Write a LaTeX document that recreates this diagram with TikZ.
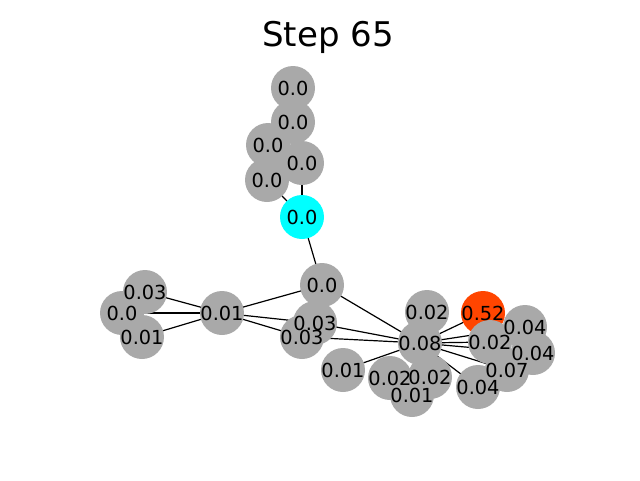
\documentclass[tikz,border=0pt]{standalone}
\usepackage{fontspec}
\setmainfont{DejaVu Sans}
\usetikzlibrary{backgrounds}
\definecolor{nodegray}{HTML}{A9A9A9}
\definecolor{nodecyan}{HTML}{00FFFF}
\definecolor{nodeorange}{HTML}{FF4500}
\begin{document}
\begin{tikzpicture}[x=0.75pt,y=-0.75pt,
  vert/.style={circle,inner sep=0pt,minimum size=33pt,fill=nodegray},
  lbl/.style={inner sep=0pt,font=\fontsize{14.5pt}{16pt}\selectfont},
  edge/.style={line width=0.9pt,black}]
\useasboundingbox (0,0) rectangle (640,480);
\node[font=\fontsize{25.5pt}{30pt}\selectfont] (title) at (328,37) {Step 65};

% vertices
\node[vert] (A) at (293,88) {};
\node[vert] (B) at (293,122) {};
\node[vert] (C) at (268,145) {};
\node[vert] (D) at (302,163) {};
\node[vert] (E) at (267,180) {};
\node[vert,fill=nodecyan] (F) at (302,217) {};
\node[vert] (G) at (322,285) {};
\node[vert] (H) at (222,313) {};
\node[vert] (I) at (145,292) {};
\node[vert] (J) at (122,313) {};
\node[vert] (K) at (142,337) {};
\node[vert] (L) at (315,323) {};
\node[vert] (M) at (302,337) {};
\node[vert] (N) at (420,343) {};
\node[vert] (O) at (427,312) {};
\node[vert,fill=nodeorange] (P) at (483,313) {};
\node[vert] (Q) at (525,327) {};
\node[vert] (S) at (533,353) {};
\node[vert] (R) at (490,342) {};
\node[vert] (T) at (507,370) {};
\node[vert] (U) at (478,387) {};
\node[vert] (V) at (343,370) {};
\node[vert] (W) at (390,378) {};
\node[vert] (X) at (430,377) {};
\node[vert] (Y) at (412,395) {};

% labels sit above every disc
\foreach \n/\t in {A/0.0,B/0.0,C/0.0,D/0.0,E/0.0,F/0.0,G/0.0,H/0.01,I/0.03,J/0.0,K/0.01,
  L/0.03,M/0.03,N/0.08,O/0.02,P/0.52,Q/0.04,S/0.04,R/0.02,T/0.07,U/0.04,V/0.01,W/0.02,X/0.02,Y/0.01}
  \node[lbl] at (\n) {\t};

% edges
\begin{scope}[on background layer]
\foreach \a/\b in {E/F,D/F,F/G,G/H,G/N,H/I,H/J,H/K,H/L,H/M,L/N,M/N,V/N,N/P,N/Q,N/R,N/S,N/T,N/U}
  \draw[edge] (\a.center) -- (\b.center);
\end{scope}
\end{tikzpicture}
\end{document}
